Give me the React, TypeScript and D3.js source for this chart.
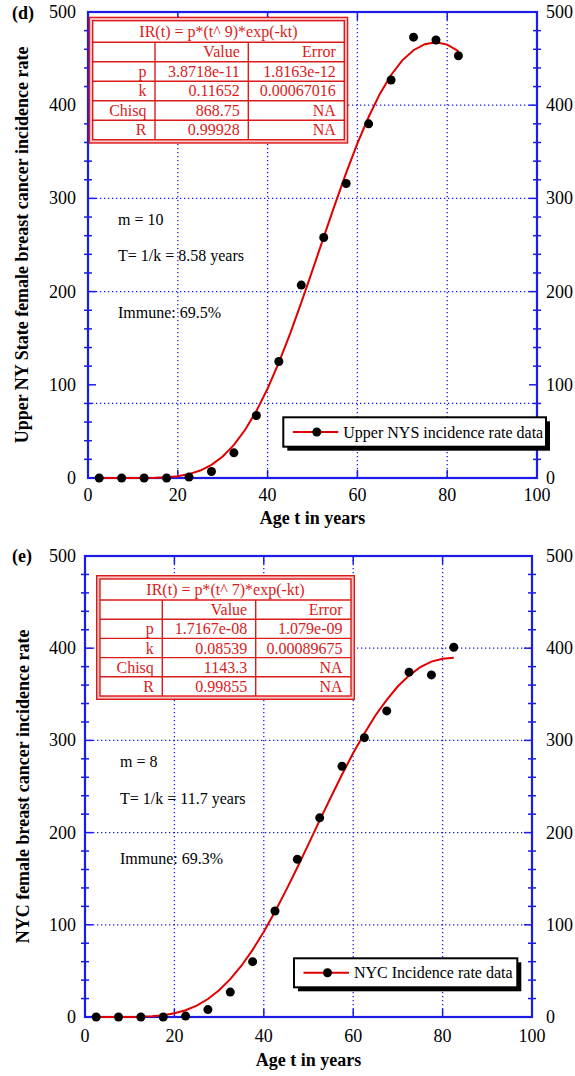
import React from "react";
import * as d3 from "d3";

// ---------- data ----------
const AGES = [2.5, 7.5, 12.5, 17.5, 22.5, 27.5, 32.5, 37.5, 42.5, 47.5, 52.5, 57.5, 62.5, 67.5, 72.5, 77.5, 82.5];
const UPPER_NYS_RATE = [0, 0, 0, 0, 1, 7, 27, 67, 125, 207, 258, 316, 380, 427, 473, 470, 453];
const NYC_RATE = [0, 0, 0, 0, 1, 8, 27, 60, 115, 171, 216, 272, 303, 332, 374, 371, 401];

const FIT_AGES = [2.5, 5, 7.5, 10, 12.5, 15, 17.5, 20, 22.5, 25, 27.5, 30, 32.5, 35, 37.5, 40, 42.5, 45, 47.5, 50, 52.5, 55, 57.5, 60, 62.5, 65, 67.5, 70, 72.5, 75, 77.5, 80, 82.5];
const UPPER_NYS_FIT = [0, 0, 0, 0.01, 0.07, 0.26, 0.78, 1.9, 4.2, 8.0, 14.1, 23.1, 35.5, 51.7, 71.8, 96.0, 123.8, 154.7, 188.1, 223.0, 258.5, 293.6, 327.4, 359.0, 387.3, 412.1, 432.4, 448.1, 459.0, 465.5, 467.6, 465.0, 458.0];
const NYC_FIT = [0, 0, 0.01, 0.07, 0.28, 0.81, 1.94, 3.98, 7.34, 12.4, 19.5, 29.0, 41.0, 55.6, 72.8, 92.4, 114.1, 137.6, 162.2, 187.5, 213.3, 238.4, 263.0, 286.3, 307.6, 327.3, 343.9, 358.7, 370.4, 379.4, 385.5, 388.6, 389.7];

const X_TICKS = [0, 20, 40, 60, 80, 100];
const Y_TICKS = [0, 100, 200, 300, 400, 500];
const Y_MINOR = [20, 40, 60, 80, 120, 140, 160, 180, 220, 240, 260, 280, 320, 340, 360, 380, 420, 440, 460, 480];
const X_GRID = [20, 40, 60, 80];
const UPPER_Y_GRID = [80, 200, 300, 400];
const NYC_Y_GRID = [100, 200, 300, 400];

const TABLE_HEAD = ["", "Value", "Error"];
const UPPER_TABLE_TITLE = "IR(t) = p*(t^ 9)*exp(-kt)";
const UPPER_TABLE_ROWS = [
  ["p", "3.8718e-11", "1.8163e-12"],
  ["k", "0.11652", "0.00067016"],
  ["Chisq", "868.75", "NA"],
  ["R", "0.99928", "NA"],
];
const NYC_TABLE_TITLE = "IR(t) = p*(t^ 7)*exp(-kt)";
const NYC_TABLE_ROWS = [
  ["p", "1.7167e-08", "1.079e-09"],
  ["k", "0.08539", "0.00089675"],
  ["Chisq", "1143.3", "NA"],
  ["R", "0.99855", "NA"],
];
const UPPER_NOTES = ["m = 10", "T= 1/k = 8.58 years", "Immune: 69.5%"];
const NYC_NOTES = ["m = 8", "T= 1/k = 11.7 years", "Immune: 69.3%"];

// ---------- style ----------
const BLUE = "#1c1ce8";
const RED = "#e00000";
const TRED = "#dc1a1a";
const FONT = "'Liberation Serif', 'Times New Roman', serif";

type TableProps = { x: number; y: number; colW: number[]; titleH: number; rowH: number; title: string; rows: string[][] };

function FitTable({ x, y, colW, titleH, rowH, title, rows }: TableProps) {
  const w = colW.reduce((a, b) => a + b, 0);
  const h = titleH + rowH * (rows.length + 1);
  const colX = [x, x + colW[0], x + colW[0] + colW[1], x + w];
  const allRows = [TABLE_HEAD, ...rows];
  return (
    <g fontFamily={FONT} fontSize={16} fill={TRED}>
      <rect x={x - 3.3} y={y - 3.3} width={w + 6.6} height={h + 6.6} fill="#f7c4c4" stroke={TRED} strokeWidth={1.4} />
      <rect x={x} y={y} width={w} height={h} fill="#fff" stroke={TRED} strokeWidth={1.4} />
      <text x={x + w / 2} y={y + titleH / 2 + 5.5} textAnchor="middle">{title}</text>
      {allRows.map((r, i) => {
        const ry = y + titleH + i * rowH;
        return (
          <g key={i}>
            <line x1={x} x2={x + w} y1={ry} y2={ry} stroke={TRED} strokeWidth={1.4} />
            {r.map((c, j) => (
              <text key={j} x={colX[j + 1] - 8.5} y={ry + rowH / 2 + 5.5} textAnchor="end">{c}</text>
            ))}
          </g>
        );
      })}
      {[1, 2].map((j) => (
        <line key={j} x1={colX[j]} x2={colX[j]} y1={y + titleH} y2={y + h} stroke={TRED} strokeWidth={1.4} />
      ))}
    </g>
  );
}

type LegendProps = { x: number; y: number; w: number; h: number; label: string };
function Legend({ x, y, w, h, label }: LegendProps) {
  const cy = y + h / 2;
  return (
    <g>
      <rect x={x + 4} y={y + 4} width={w} height={h} fill="#000" />
      <rect x={x} y={y} width={w} height={h} fill="#fff" stroke="#000" strokeWidth={2} />
      <line x1={x + 9.5} x2={x + 55} y1={cy} y2={cy} stroke={RED} strokeWidth={2} />
      <circle cx={x + 33.5} cy={cy} r={4.5} fill="#000" />
      <text x={x + 60} y={cy + 5.5} fontFamily={FONT} fontSize={16} fill="#000">{label}</text>
    </g>
  );
}

type PanelProps = {
  left: number; right: number; top: number; bottom: number;
  rates: number[]; fit: number[]; yGrid: number[];
  tag: string; yTitle: string; yTitleX: number;
  notes: string[]; noteX: number; noteY: number[];
  table: TableProps; legend: LegendProps;
  xLabelY: number; xTitleY: number; rightLabelX: number; tagY: number;
};

function Panel(p: PanelProps) {
  const x = d3.scaleLinear().domain([0, 100]).range([p.left, p.right]);
  const y = d3.scaleLinear().domain([0, 500]).range([p.bottom, p.top]);
  const line = d3.line<[number, number]>().x((d) => x(d[0])).y((d) => y(d[1]));
  const fitPts: [number, number][] = FIT_AGES.map((a, i) => [a, p.fit[i]]);
  const dash = "1.3,2.7";
  return (
    <g>
      {X_GRID.map((g) => (
        <line key={"gx" + g} x1={x(g)} x2={x(g)} y1={p.top} y2={p.bottom} stroke={BLUE} strokeWidth={1.3} strokeDasharray={dash} />
      ))}
      {p.yGrid.map((g) => (
        <line key={"gy" + g} x1={p.left} x2={p.right} y1={y(g)} y2={y(g)} stroke={BLUE} strokeWidth={1.3} strokeDasharray={dash} />
      ))}
      {X_GRID.map((g) => (
        <g key={"tx" + g}>
          <line x1={x(g)} x2={x(g)} y1={p.bottom} y2={p.bottom - 8} stroke={BLUE} strokeWidth={1.5} />
          <line x1={x(g)} x2={x(g)} y1={p.top} y2={p.top + 8} stroke={BLUE} strokeWidth={1.5} />
        </g>
      ))}
      {Y_TICKS.map((t) => (
        <g key={"ty" + t}>
          <line x1={p.left} x2={p.left + 8} y1={y(t)} y2={y(t)} stroke={BLUE} strokeWidth={1.5} />
          <line x1={p.right} x2={p.right - 8} y1={y(t)} y2={y(t)} stroke={BLUE} strokeWidth={1.5} />
        </g>
      ))}
      {Y_MINOR.map((t) => (
        <g key={"tm" + t}>
          <line x1={p.left - 4} x2={p.left + 4} y1={y(t)} y2={y(t)} stroke={BLUE} strokeWidth={1.5} />
          <line x1={p.right - 4} x2={p.right + 4} y1={y(t)} y2={y(t)} stroke={BLUE} strokeWidth={1.5} />
        </g>
      ))}
      <rect x={p.left} y={p.top} width={p.right - p.left} height={p.bottom - p.top} fill="none" stroke={BLUE} strokeWidth={2.2} />
      <path d={line(fitPts) || ""} fill="none" stroke={RED} strokeWidth={2} />
      {AGES.map((a, i) => (
        <circle key={"d" + i} cx={x(a)} cy={y(p.rates[i])} r={4.5} fill="#000" />
      ))}
      <FitTable {...p.table} />
      <Legend {...p.legend} />
      {p.notes.map((n, i) => (
        <text key={"n" + i} x={p.noteX} y={p.noteY[i]} fontFamily={FONT} fontSize={16} fill="#000">{n}</text>
      ))}
      {Y_TICKS.map((t) => (
        <g key={"yl" + t} fontFamily={FONT} fontSize={18} fill="#000">
          <text x={76} y={y(t) + 6} textAnchor="end">{t}</text>
          <text x={p.rightLabelX} y={y(t) + 6} textAnchor="start">{t}</text>
        </g>
      ))}
      {X_TICKS.map((t) => (
        <text key={"xl" + t} x={x(t)} y={p.xLabelY} textAnchor="middle" fontFamily={FONT} fontSize={18} fill="#000">{t}</text>
      ))}
      <text x={(p.left + p.right) / 2} y={p.xTitleY} textAnchor="middle" fontFamily={FONT} fontSize={18} fontWeight="bold" fill="#000">Age t in years</text>
      <text transform={`translate(${p.yTitleX},${(p.top + p.bottom) / 2}) rotate(-90)`} textAnchor="middle" fontFamily={FONT} fontSize={18} fontWeight="bold" fill="#000">{p.yTitle}</text>
      <text x={12} y={p.tagY} fontFamily={FONT} fontSize={18} fontWeight="bold" fill="#000">{p.tag}</text>
    </g>
  );
}

export default function App() {
  return (
    <svg width={575} height={1076} style={{ position: "absolute", left: 0, top: 0, background: "#fff" }}>
      <rect x={0} y={0} width={575} height={1076} fill="#fff" />
      <Panel
        left={88} right={537} top={12} bottom={478}
        rates={UPPER_NYS_RATE} fit={UPPER_NYS_FIT} yGrid={UPPER_Y_GRID}
        tag="(d)" tagY={18.5}
        yTitle="Upper NY State female breast cancer incidence rate" yTitleX={28}
        notes={UPPER_NOTES} noteX={118} noteY={[224.5, 260.5, 318]}
        table={{ x: 92.7, y: 20.7, colW: [62.3, 93.3, 96], titleH: 21.5, rowH: 19.5, title: UPPER_TABLE_TITLE, rows: UPPER_TABLE_ROWS }}
        legend={{ x: 283.3, y: 417.3, w: 262.7, h: 29.4, label: "Upper NYS incidence rate data" }}
        xLabelY={501} xTitleY={524} rightLabelX={546}
      />
      <Panel
        left={85} right={532} top={556} bottom={1017}
        rates={NYC_RATE} fit={NYC_FIT} yGrid={NYC_Y_GRID}
        tag="(e)" tagY={562}
        yTitle="NYC female breast cancer incidence rate" yTitleX={29}
        notes={NYC_NOTES} noteX={120} noteY={[767, 803.5, 864]}
        table={{ x: 100, y: 579, colW: [62.3, 93.4, 95.3], titleH: 21, rowH: 19.2, title: NYC_TABLE_TITLE, rows: NYC_TABLE_ROWS }}
        legend={{ x: 294, y: 958.3, w: 223.3, h: 29, label: "NYC Incidence rate data" }}
        xLabelY={1042} xTitleY={1066} rightLabelX={546}
      />
    </svg>
  );
}
